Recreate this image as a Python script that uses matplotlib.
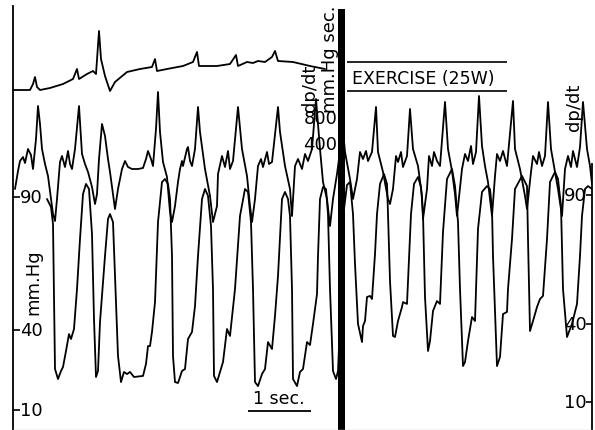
import matplotlib.pyplot as plt
from matplotlib import transforms

# ---------- DATA ----------
# time in s; ECG in mV (arbitrary), LV pressure in mm.Hg, dp/dt in mm.Hg/sec

ecg_points = [
    (0.0, -0.05), (0.272, -0.05), (0.32, 0.25), (0.352, 0.6), (0.384, 0.1),
    (0.432, -0.05), (0.592, 0.05), (0.8, 0.25), (0.96, 0.5), (1.024, 1.0),
    (1.056, 0.5), (1.184, 0.75), (1.28, 0.9), (1.328, 0.75), (1.376, 2.9),
    (1.408, 1.5), (1.472, 0.65), (1.552, -0.1), (1.632, 0.35), (1.824, 0.85),
    (2.032, 1.0), (2.224, 1.1), (2.272, 1.5), (2.304, 0.9), (2.464, 1.0),
    (2.72, 1.15), (2.88, 1.35), (2.944, 1.85), (2.976, 1.15), (3.264, 1.15),
    (3.472, 1.25), (3.568, 1.7), (3.6, 1.15), (3.744, 1.35), (3.84, 1.3),
    (3.92, 1.4), (4.032, 1.35), (4.144, 1.6), (4.192, 1.9), (4.24, 1.4),
    (4.48, 1.35), (4.752, 1.15), (4.992, 1.0),
]

lvp_points = [
    (0.544, 89.25), (0.608, 86.25), (0.64, 79.9), (0.656, 51.75), (0.672, 25.5),
    (0.72, 21.75), (0.768, 24.75), (0.8, 26.25), (0.848, 32.25), (0.896, 38.6),
    (0.928, 36.75), (0.976, 40.5), (1.024, 55.5), (1.072, 74.25), (1.12, 91.1),
    (1.168, 94.9), (1.216, 93.0), (1.264, 76.1), (1.296, 44.25), (1.328, 22.5),
    (1.36, 24.75), (1.392, 43.1), (1.472, 67.9), (1.52, 81.75), (1.552, 83.6),
    (1.6, 80.6), (1.632, 60.4), (1.68, 30.4), (1.728, 20.6), (1.776, 24.4),
    (1.824, 23.6), (1.872, 24.4), (1.936, 22.5), (2.08, 22.9), (2.128, 27.4),
    (2.16, 34.1), (2.192, 34.1), (2.224, 39.4), (2.272, 50.6), (2.32, 80.6),
    (2.384, 95.6), (2.432, 96.75), (2.48, 94.9), (2.512, 89.25), (2.544, 67.9),
    (2.56, 30.4), (2.592, 20.6), (2.64, 20.25), (2.704, 24.75), (2.752, 25.5),
    (2.8, 36.75), (2.864, 39.4), (2.912, 49.1), (2.96, 67.9), (3.024, 89.25),
    (3.072, 93.0), (3.12, 90.4), (3.168, 79.1), (3.2, 55.5), (3.216, 22.9),
    (3.264, 20.6), (3.312, 24.4), (3.36, 28.1), (3.424, 40.5), (3.472, 37.9),
    (3.552, 55.5), (3.632, 82.9), (3.712, 93.0), (3.76, 91.9), (3.808, 80.6),
    (3.84, 55.5), (3.872, 20.6), (3.92, 19.1), (3.984, 23.6), (4.032, 25.5),
    (4.08, 35.6), (4.144, 33.0), (4.192, 45.4), (4.24, 60.4), (4.304, 89.25),
    (4.352, 91.9), (4.4, 89.25), (4.432, 82.9), (4.464, 55.5), (4.48, 21.75),
    (4.544, 19.1), (4.592, 24.4), (4.64, 25.5), (4.704, 35.6), (4.752, 34.5),
    (4.8, 42.4), (4.864, 53.6), (4.88, 67.9), (4.912, 89.25), (4.96, 93.75),
    (5.008, 93.0), (5.04, 83.6), (5.072, 55.5), (5.12, 24.75), (5.168, 21.75),
    (5.2, 24.75), (5.248, 51.75), (5.296, 85.5), (5.344, 94.5), (5.392, 95.6),
    (5.44, 83.6), (5.472, 64.9), (5.52, 42.4), (5.584, 35.6), (5.6, 41.6),
    (5.632, 43.5), (5.664, 52.5), (5.712, 52.9), (5.744, 51.75), (5.792, 68.6),
    (5.824, 83.6), (5.872, 94.9), (5.936, 98.6), (5.984, 94.9), (6.0, 83.6),
    (6.032, 58.5), (6.08, 37.9), (6.112, 37.5), (6.16, 43.5), (6.224, 48.75),
    (6.24, 50.6), (6.304, 49.9), (6.336, 66.75), (6.368, 83.6), (6.416, 94.9),
    (6.48, 97.5), (6.528, 93.75), (6.56, 83.6), (6.592, 52.5), (6.64, 32.25),
    (6.672, 36.0), (6.72, 47.25), (6.784, 51.0), (6.832, 49.9), (6.88, 76.9),
    (6.944, 96.75), (7.024, 100.5), (7.072, 94.1), (7.12, 80.6), (7.152, 55.5),
    (7.2, 26.6), (7.232, 28.1), (7.28, 36.0), (7.344, 45.0), (7.392, 43.5),
    (7.44, 78.0), (7.504, 91.9), (7.584, 94.1), (7.632, 93.0), (7.664, 85.5),
    (7.68, 67.9), (7.744, 26.6), (7.792, 30.0), (7.84, 46.1), (7.904, 46.9),
    (7.92, 55.5), (7.984, 74.25), (8.032, 93.0), (8.144, 97.9), (8.224, 94.1),
    (8.24, 74.25), (8.272, 39.75), (8.32, 43.5), (8.384, 48.75), (8.432, 51.75),
    (8.48, 52.9), (8.544, 74.25), (8.592, 95.6), (8.672, 99.4), (8.72, 96.75),
    (8.768, 86.6), (8.8, 55.5), (8.864, 37.5), (8.944, 42.4), (9.024, 49.9),
    (9.072, 67.9), (9.104, 82.9), (9.152, 93.0), (9.2, 94.1), (9.264, 93.0),
]

dpdt_points = [
    (0.032, -270), (0.08, 0), (0.112, 150), (0.16, 210), (0.192, 120),
    (0.24, 330), (0.288, 240), (0.32, 30), (0.368, 480), (0.4, 975),
    (0.432, 705), (0.464, 330), (0.512, 105), (0.56, -75), (0.608, -420),
    (0.64, -645), (0.672, -750), (0.704, -420), (0.752, 135), (0.784, 225),
    (0.832, 60), (0.88, 300), (0.912, 105), (0.944, 30), (0.992, 330),
    (1.056, 975), (1.104, 255), (1.152, 105), (1.2, -15), (1.264, -240),
    (1.312, -495), (1.344, -345), (1.376, 180), (1.424, 705), (1.472, 525),
    (1.52, 180), (1.552, -15), (1.6, -345), (1.632, -570), (1.68, -270),
    (1.744, 30), (1.792, 150), (1.84, 60), (1.904, 30), (2.0, 30),
    (2.08, 45), (2.128, 180), (2.16, 300), (2.208, 180), (2.24, 75),
    (2.288, 630), (2.32, 1185), (2.352, 585), (2.4, 135), (2.464, -90),
    (2.512, -615), (2.544, -765), (2.592, -525), (2.64, -165), (2.672, 30),
    (2.704, 150), (2.72, 75), (2.784, 330), (2.8, 360), (2.832, 150),
    (2.864, 75), (2.912, 330), (2.96, 960), (2.992, 585), (3.072, 30),
    (3.152, -375), (3.2, -765), (3.264, -525), (3.28, -45), (3.344, 225),
    (3.392, 60), (3.44, 300), (3.472, 30), (3.52, 150), (3.6, 960),
    (3.664, 330), (3.744, -75), (3.792, -525), (3.824, -765), (3.872, -420),
    (3.92, 75), (3.968, 180), (4.0, 60), (4.064, 285), (4.096, 105),
    (4.144, 135), (4.24, 960), (4.272, 585), (4.352, 75), (4.432, -270),
    (4.464, -675), (4.512, 75), (4.56, 180), (4.624, 30), (4.672, 255),
    (4.72, 150), (4.784, 330), (4.848, 1080), (4.912, 330), (4.96, -165),
    (5.024, -420), (5.072, -825), (5.12, -420), (5.184, -45), (5.216, 180),
    (5.264, 780), (5.312, 285), (5.392, -120), (5.44, -420), (5.504, -120),
    (5.552, 285), (5.6, 180), (5.648, 300), (5.68, 150), (5.744, 285),
    (5.808, 960), (5.84, 285), (5.92, -15), (6.0, -420), (6.032, -495),
    (6.08, -270), (6.128, 225), (6.16, 135), (6.208, 285), (6.24, 60),
    (6.304, 225), (6.352, 930), (6.4, 330), (6.48, 75), (6.544, -375),
    (6.56, -720), (6.624, -270), (6.656, 225), (6.704, 75), (6.736, 285),
    (6.784, 150), (6.832, 75), (6.912, 1035), (6.96, 330), (7.024, 0),
    (7.072, -345), (7.104, -675), (7.184, 30), (7.232, 255), (7.28, 150),
    (7.328, 375), (7.36, 105), (7.408, 285), (7.456, 1125), (7.504, 375),
    (7.552, 75), (7.6, -165), (7.664, -675), (7.712, -75), (7.744, 255),
    (7.792, 150), (7.84, 300), (7.904, 75), (8.0, 1050), (8.032, 330),
    (8.112, 30), (8.192, -375), (8.224, -570), (8.288, -15), (8.32, 225),
    (8.384, 105), (8.416, 285), (8.464, 75), (8.512, 225), (8.56, 1035),
    (8.608, 330), (8.672, -15), (8.72, -270), (8.784, -675), (8.832, 30),
    (8.88, 225), (8.928, 60), (8.96, 300), (9.024, 60), (9.072, 360),
    (9.12, 1035), (9.184, 330), (9.232, 75), (9.264, -195),
]

pressure_ticks = [90, 40, 10]
dpdt_labels = [800, 400]
exercise_start = 5.2      # s, onset of exercise marker
exercise_label = "EXERCISE (25W)"
scale_bar_s = 1.0

ecg_t, ecg_mv = zip(*ecg_points)
lvp_t, lvp_mm = zip(*lvp_points)
dp_t, dp_val = zip(*dpdt_points)

# ---------- FIGURE ----------
plt.rcParams["font.family"] = "DejaVu Sans"
fig = plt.figure(figsize=(5.95, 4.31), dpi=100)
pos = [13 / 595, 0, 579 / 595, 1]

ax = fig.add_axes(pos)                      # LV pressure, left scale
ax.set_xlim(0, 9.264)
ax.set_ylim(2.625, 164.25)

ax_dp = fig.add_axes(pos, sharex=ax, frameon=False)
ax_dp.set_ylim(-3885, 2580)
ax_dp.axis("off")

ax_ecg = fig.add_axes(pos, sharex=ax, frameon=False)
ax_ecg.set_ylim(-17.05, 4.5)
ax_ecg.axis("off")

ax_r = fig.add_axes(pos, sharex=ax, frameon=False)   # right pressure scale
ax_r.set_ylim(-0.82, 165.75)

# traces
trace = dict(color="black", lw=1.3, solid_joinstyle="round",
             solid_capstyle="round")
ax_ecg.plot(ecg_t, ecg_mv, **trace)
ax_dp.plot(dp_t, dp_val, **trace)
ax.plot(lvp_t, lvp_mm, **trace)

# frame
ax.spines["top"].set_visible(False)
ax.spines["left"].set_linewidth(1.3)
ax.spines["left"].set_bounds(2.625, 161.6)
ax.spines["right"].set_linewidth(1.3)
ax.spines["right"].set_bounds(2.625, 102.4)
ax.spines["bottom"].set_color("#c8c8c8")
ax.spines["bottom"].set_linewidth(1.0)

ax.set_yticks(pressure_ticks)
ax.tick_params(axis="y", direction="in", length=5, width=1.2,
               labelleft=False)
ax.tick_params(axis="x", bottom=False, labelbottom=False)

ax_r.yaxis.tick_right()
ax_r.set_yticks(pressure_ticks)
ax_r.tick_params(axis="y", direction="in", length=4, width=1.2,
                 labelright=False, left=False)
ax_r.tick_params(axis="x", bottom=False, labelbottom=False)

# exercise marker
ax.axvspan(exercise_start, exercise_start + 0.11, ymin=0, ymax=0.977,
           color="black", lw=0)
ax.hlines([140.6, 129.75], 5.344, 7.904, color="black", lw=1.2)
ax.text(5.424, 134.6, exercise_label, fontsize=12.5, ha="left", va="center")

# labels
fs = 13
left_tr = transforms.blended_transform_factory(ax.transAxes, ax.transData)
for v in pressure_ticks:
    ax.text(0.012, v, str(v), transform=left_tr, fontsize=fs,
            ha="left", va="center")
right_tr = transforms.blended_transform_factory(ax_r.transAxes, ax_r.transData)
for v in pressure_ticks:
    ax_r.text(0.991, v, str(v), transform=right_tr, fontsize=fs,
              ha="right", va="center")

ax.text(0.0345, 58.5, "mm.Hg", transform=left_tr, fontsize=fs,
        rotation=90, ha="center", va="center")

for v in dpdt_labels:
    ax_dp.text(4.915, v, str(v), fontsize=fs, ha="center", va="center")
ax.text(4.752, 131.3, "dp/dt", fontsize=fs, rotation=90,
        ha="center", va="center")
ax.text(5.072, 142.1, "mm.Hg sec.", fontsize=fs, rotation=90,
        ha="center", va="center")
ax.text(8.976, 124.1, "dp/dt", fontsize=fs, rotation=90,
        ha="center", va="center")

# time scale bar
ax.hlines(9.75, 3.76, 3.76 + scale_bar_s, color="black", lw=1.3)
ax.text(3.76 + scale_bar_s / 2, 14.5, "1 sec.", fontsize=12.5,
        ha="center", va="center")

fig.savefig("out.png", dpi=100)
